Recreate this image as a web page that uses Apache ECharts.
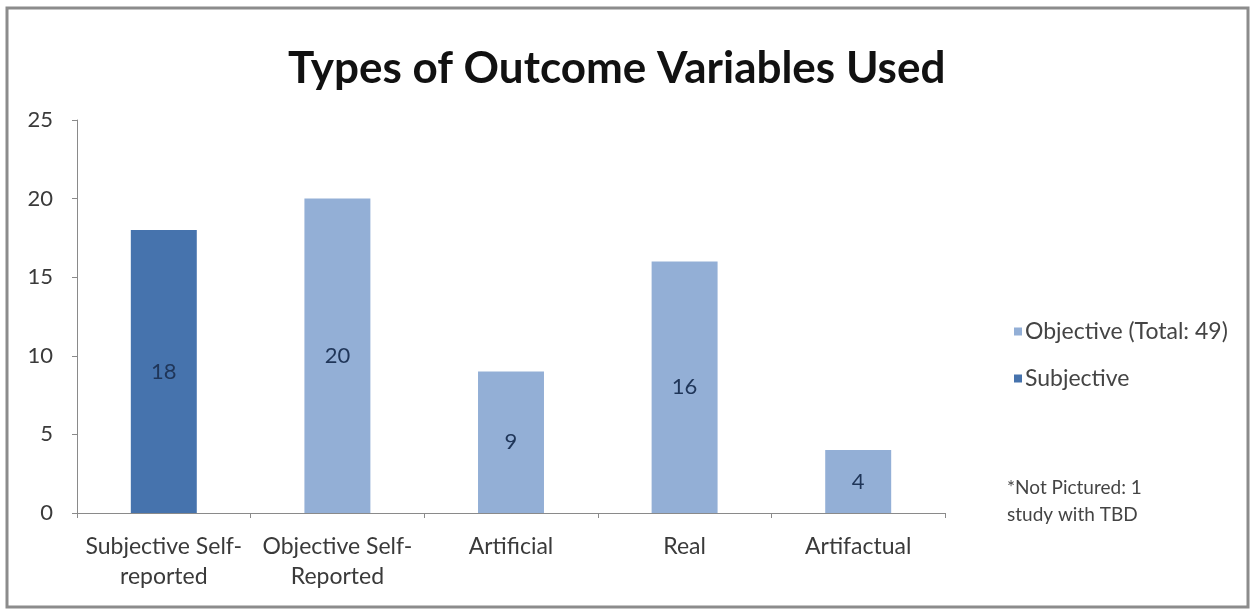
<!DOCTYPE html>
<html>
<head>
<meta charset="utf-8">
<script src="https://cdn.jsdelivr.net/npm/echarts@6/dist/echarts.min.js"></script>
<style>
  html, body { margin: 0; padding: 0; background: #ffffff; }
  #chart { width: 1253px; height: 611px; }
</style>
</head>
<body>
<div id="chart"></div>
<script>
// Outcome variable types and study counts
const categories = ['Subjective Self-\nreported', 'Objective Self-\nReported', 'Artificial', 'Real', 'Artifactual'];
const subjectiveCounts = [18, '-', '-', '-', '-'];
const objectiveCounts = ['-', 20, 9, 16, 4];
const yTicks = { min: 0, max: 25, interval: 5 };

const FONT = 'Lato, "Open Sans", sans-serif';
const DARK = '#4673ad';
const LIGHT = '#93afd6';

const chart = echarts.init(document.getElementById('chart'), null, { renderer: 'canvas' });

const barLabel = {
  show: true,
  position: 'inside',
  color: '#1f3558',
  fontFamily: FONT,
  fontSize: 22
};

chart.setOption({
  backgroundColor: '#ffffff',
  animation: false,
  title: {
    text: 'Types of Outcome Variables Used',
    left: 283,
    top: 42,
    textStyle: { fontFamily: FONT, fontWeight: 'bold', fontSize: 44, color: '#111111' }
  },
  legend: {
    orient: 'vertical',
    left: 1009,
    top: 315,
    itemWidth: 8,
    itemHeight: 8,
    itemGap: 24,
    icon: 'rect',
    data: ['Objective (Total: 49)', 'Subjective'],
    textStyle: { fontFamily: FONT, fontSize: 23, color: '#444444', padding: [0, 0, 0, -2] }
  },
  grid: { left: 77, right: 308, top: 120, bottom: 98, containLabel: false },
  xAxis: {
    type: 'category',
    data: categories,
    axisLine: { lineStyle: { color: '#8a8a8a', width: 1 } },
    axisTick: { show: true, length: 5, alignWithLabel: false, lineStyle: { color: '#8a8a8a' } },
    axisLabel: {
      fontFamily: FONT, fontSize: 23, color: '#3a3a3a',
      lineHeight: 30, margin: 19, interval: 0
    }
  },
  yAxis: {
    type: 'value',
    min: yTicks.min,
    max: yTicks.max,
    interval: yTicks.interval,
    splitLine: { show: false },
    axisLine: { show: true, lineStyle: { color: '#8a8a8a', width: 1 } },
    axisTick: { show: true, length: 5, lineStyle: { color: '#8a8a8a' } },
    axisLabel: { fontFamily: FONT, fontSize: 22, color: '#3a3a3a', margin: 24 }
  },
  series: [
    {
      name: 'Objective (Total: 49)',
      type: 'bar',
      stack: 'outcome',
      barWidth: '38%',
      data: objectiveCounts,
      itemStyle: { color: LIGHT },
      label: barLabel
    },
    {
      name: 'Subjective',
      type: 'bar',
      stack: 'outcome',
      barWidth: '38%',
      data: subjectiveCounts,
      itemStyle: { color: DARK },
      label: barLabel
    }
  ],
  graphic: [
    {
      type: 'rect',
      silent: true,
      shape: { x: 7, y: 8, width: 1241, height: 599 },
      style: { fill: 'none', stroke: '#8c8c8c', lineWidth: 3 }
    },
    {
      type: 'text',
      left: 1007,
      top: 474,
      style: {
        text: '*Not Pictured: 1\nstudy with TBD',
        fontFamily: FONT,
        fontSize: 19,
        lineHeight: 27,
        fill: '#444444'
      }
    }
  ]
});
</script>
</body>
</html>
